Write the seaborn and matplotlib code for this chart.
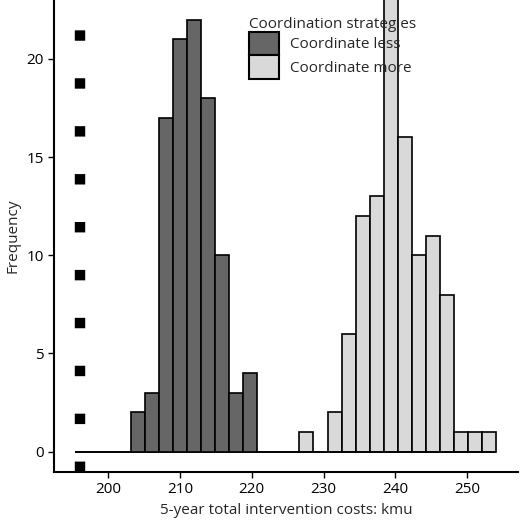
import numpy as np
import pandas as pd
import seaborn as sns
import matplotlib.pyplot as plt

# 30 bins from 195.4 to 254
bin_start = 195.4
bin_width = 1.953
less_counts = [0, 0, 0, 0, 2, 3, 17, 21, 22, 18, 10, 3, 4, 0, 0,
               0, 0, 0, 0, 0, 0, 0, 0, 0, 0, 0, 0, 0, 0, 0]
more_counts = [0, 0, 0, 0, 0, 0, 0, 0, 0, 0, 0, 0, 0, 0, 0,
               0, 1, 0, 2, 6, 12, 13, 24, 16, 10, 11, 8, 1, 1, 1]
strategies = ['Coordinate less', 'Coordinate more']
vline_x = 196

centers = bin_start + bin_width * (np.arange(30) + 0.5)
df = pd.DataFrame({
    'cost': np.concatenate([centers, centers]),
    'n': less_counts + more_counts,
    'strategy': [strategies[0]] * 30 + [strategies[1]] * 30,
})

sns.set_style('white')
plt.rcParams['font.family'] = ['Open Sans', 'DejaVu Sans']

fig = plt.figure(figsize=(5.2, 5.23), dpi=100)
ax = fig.add_axes([54 / 520, 51.3 / 523, 464 / 520, 471.7 / 523])

sns.histplot(data=df, x='cost', weights='n', hue='strategy', hue_order=strategies,
             bins=30, binrange=(bin_start, bin_start + 30 * bin_width),
             multiple='layer', palette=['#666666', '#d9d9d9'], alpha=1,
             edgecolor='black', linewidth=1.2, ax=ax, legend=True)
vl = ax.axvline(vline_x, color='black', linestyle=(0, (1, 3.6)), linewidth=7.5)
vl.set_dash_capstyle('butt')

ax.set_xlim(192.44, 257.1)
ax.set_ylim(-1.02, 23.0)
ax.set_xticks([200, 210, 220, 230, 240, 250])
ax.set_yticks([0, 5, 10, 15, 20])
ax.tick_params(length=4, width=1, colors='black', direction='out',
               bottom=True, left=True, labelsize=11)
sns.despine(ax=ax)
for s in ['left', 'bottom']:
    ax.spines[s].set_linewidth(1.5)
    ax.spines[s].set_color('black')
ax.set_xlabel('5-year total intervention costs: kmu', fontsize=11)
ax.set_ylabel('Frequency', fontsize=11)

old = ax.get_legend()
handles = old.legend_handles
for h in handles:
    h.set_edgecolor('black')
    h.set_linewidth(1.5)
old.remove()
leg = ax.legend(handles, strategies, title='Coordination strategies',
                loc='upper left', bbox_to_anchor=(0.42, 0.965), frameon=False,
                fontsize=11, title_fontsize=11, handlelength=2.0, handleheight=2.0,
                handletextpad=0.7, labelspacing=0.0, borderpad=0, borderaxespad=0)
leg._legend_box.align = 'left'

fig.savefig('out.png', dpi=100)
